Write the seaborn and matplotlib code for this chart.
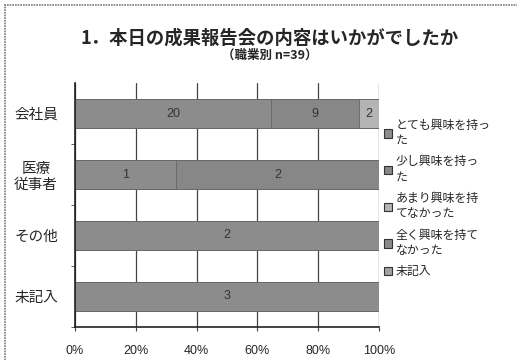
import numpy as np
import pandas as pd
import matplotlib
matplotlib.use('Agg')
import matplotlib.pyplot as plt
import seaborn as sns
from matplotlib.patches import Rectangle, Patch

# Data (counts per occupation)
occupations = ['会社員', '医療\n従事者', 'その他', '未記入']
answers = ['とても興味を持っ\nた', '少し興味を持っ\nた', 'あまり興味を持\nてなかった', '全く興味を持て\nなかった', '未記入']
very = [20, 1, 2, 3]
some = [9, 2, 0, 0]
little = [2, 0, 0, 0]
none_at_all = [0, 0, 0, 0]
no_answer = [0, 0, 0, 0]
colors = ['#8c8c8c', '#878787', '#b4b4b4', '#8a8a8a', '#a2a2a2']

sns.set_style('white')
plt.rcParams['font.family'] = ['Noto Sans CJK JP', 'DejaVu Sans']

counts = pd.DataFrame({a: v for a, v in zip(answers, [very, some, little, none_at_all, no_answer])},
                      index=occupations)
pct = counts.div(counts.sum(axis=1), axis=0) * 100
cum = pct.cumsum(axis=1)

fig = plt.figure(figsize=(5.17, 3.6), dpi=100)
ax = fig.add_axes([0.145, 0.092, 0.588, 0.677])

# stacked bars: draw cumulative totals from the last series back to the first
for ans, col in reversed(list(zip(answers, colors))):
    df = pd.DataFrame({'職業': occupations, 'pct': cum[ans].values})
    sns.barplot(data=df, y='職業', x='pct', color=col, width=0.48,
                edgecolor='#666666', linewidth=0.6, ax=ax, orient='h', saturation=1)

# value labels inside segments
for i, occ in enumerate(occupations):
    start = 0
    for ans in answers:
        n = counts.loc[occ, ans]
        end = cum.loc[occ, ans]
        if n > 0:
            ax.text((start + end) / 2, i, str(n), ha='center', va='center',
                    fontsize=9, color='#333333', family=['Liberation Sans'])
        start = end

ax.set_xlim(0, 100)
ax.set_ylim(3.5, -0.5)
ax.set_xticks([0, 20, 40, 60, 80, 100])
ax.set_xticklabels(['0%', '20%', '40%', '60%', '80%', '100%'], fontsize=9,
                   family='Liberation Sans')
ax.set_yticks(range(4))
ax.set_yticklabels(occupations, fontsize=10.5, linespacing=1.2, ha='center')
ax.tick_params(axis='y', length=0, pad=28)
ax.set_yticks([0.5, 1.5, 2.5, 3.5], minor=True)
ax.tick_params(axis='y', which='minor', length=3, color='#444444', left=True)
ax.tick_params(axis='x', length=3, color='#444444', bottom=True, pad=10)
ax.set_xlabel('')
ax.set_ylabel('')
ax.xaxis.grid(True, color='#444444', linewidth=0.9)
ax.set_axisbelow(True)
for s in ['top', 'right']:
    ax.spines[s].set_visible(False)
for s in ['left', 'bottom']:
    ax.spines[s].set_color('#222222')
    ax.spines[s].set_linewidth(1.2)

handles = [Patch(facecolor=c, edgecolor='#333333', linewidth=0.8) for c in colors]
fig.legend(handles, answers, loc='upper left', bbox_to_anchor=(0.722, 0.7),
           frameon=False, fontsize=8.6, handlelength=0.7, handleheight=0.7,
           handletextpad=0.3, labelspacing=0.72)

fig.text(0.522, 0.895, '1．本日の成果報告会の内容はいかがでしたか', ha='center', va='center',
         fontsize=13.2, fontweight='bold')
fig.text(0.522, 0.847, '（職業別 n=39）', ha='center', va='center',
         fontsize=9, fontweight='bold')

fig.patches.append(Rectangle((5 / 517, -0.1), 1.2, 1 - 5 / 360 + 0.1, transform=fig.transFigure,
                             fill=False, edgecolor='#777777', linewidth=1.2, linestyle=(0, (1, 0.6))))

fig.savefig('out.png', dpi=100)
